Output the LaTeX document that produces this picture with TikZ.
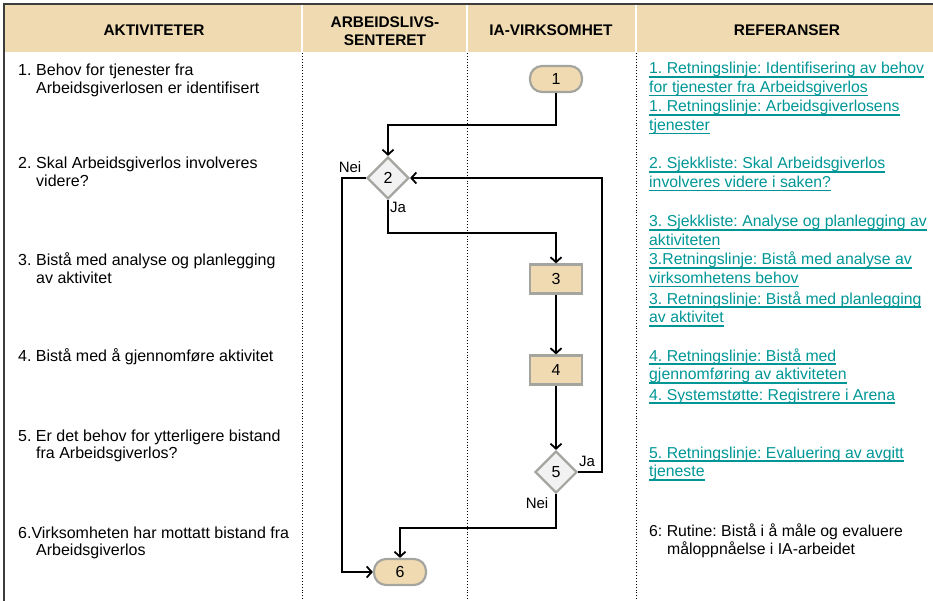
\documentclass[tikz,border=0pt]{standalone}
\usepackage{fontspec}
\setmainfont{Liberation Sans}
\usetikzlibrary{shapes.geometric,arrows.meta}
\definecolor{beige}{RGB}{239,218,177}
\definecolor{bordergray}{RGB}{165,165,160}
\definecolor{dfill}{RGB}{242,242,242}
\definecolor{linkteal}{RGB}{0,150,150}
\definecolor{framecol}{RGB}{60,60,60}
\newsavebox{\ulinkbox}
\newcommand\ulink[1]{\sbox{\ulinkbox}{#1}\leavevmode\rlap{\rule[-4pt]{\wd\ulinkbox}{1.6pt}}\usebox{\ulinkbox}}
\newcommand\hang{\hspace*{18pt}}
\frenchspacing
\begin{document}
\begin{tikzpicture}[x=1pt,y=-1pt,
  item/.style={anchor=base west, inner sep=0pt, align=left, font=\fontsize{16}{17.5}\selectfont},
  refs/.style={anchor=base west, inner sep=0pt, align=left, text=linkteal, font=\fontsize{15.8}{18.5}\selectfont},
  hdr/.style={font=\bfseries\fontsize{15.4}{18.5}\selectfont, align=center, inner sep=0pt},
  proc/.style={draw=bordergray, line width=2.2pt, fill=beige, minimum width=52pt, minimum height=29pt, inner sep=0pt, font=\fontsize{16}{16}\selectfont},
  term/.style={proc, rounded corners=12pt, minimum height=26pt},
  dec/.style={diamond, draw=bordergray, line width=2.2pt, fill=dfill, minimum size=42pt, inner sep=0pt, font=\fontsize{16}{16}\selectfont},
  flow/.style={draw, line width=1.8pt, -{Straight Barb[length=5pt,width=11pt,line width=1.8pt]}},
  lab/.style={font=\fontsize{15}{15}\selectfont, inner sep=0pt},
  sep/.style={dotted, line width=0.9pt},
]
\useasboundingbox (0,0) rectangle (933,601);
% header
\fill[beige] (5,5) rectangle (933,52);
\foreach \xx in {302,467,636} \draw[white, line width=2pt] (\xx,5) -- (\xx,52);
\draw[framecol, line width=2pt] (4,4) -- (933,4);
\draw[framecol, line width=2pt] (4,3) -- (4,601);
\foreach \xx in {302,467,636} \draw[sep] (\xx,53) -- (\xx,601);
\node[hdr] (h1) at (154,30) {AKTIVITETER};
\node[hdr] (h2) at (385,31) {ARBEIDSLIVS-\\SENTERET};
\node[hdr] (h3) at (551,30) {IA-VIRKSOMHET};
\node[hdr] (h4) at (787,30) {REFERANSER};
% activities (base anchor = baseline of last line)
\node[item] (a1) at (18,93.5) {\makebox[18pt][l]{1.}Behov for tjenester fra\\\hang Arbeidsgiverlosen er identifisert};
\node[item] (a2) at (18,186.5) {\makebox[18pt][l]{2.}Skal Arbeidsgiverlos involveres\\\hang videre?};
\node[item] (a3) at (18,283.5) {\makebox[18pt][l]{3.}Bistå med analyse og planlegging\\\hang av aktivitet};
\node[item] (a4) at (18,361) {4. Bistå med å gjennomføre aktivitet};
\node[item] (a5) at (18,458.5) {5. Er det behov for ytterligere bistand\\\hang fra Arbeidsgiverlos?};
\node[item] (a6) at (18,555.5) {6.Virksomheten har mottatt bistand fra\\\hang Arbeidsgiverlos};
% references
\node[refs] (r1) at (649,92.5) {\ulink{1. Retningslinje: Identifisering av behov}\\\ulink{for tjenester fra Arbeidsgiverlos}};
\node[refs] (r2) at (649,130.5) {\ulink{1. Retningslinje: Arbeidsgiverlosens}\\\ulink{tjenester}};
\node[refs] (r3) at (649,187.5) {\ulink{2. Sjekkliste: Skal Arbeidsgiverlos}\\\ulink{involveres videre i saken?}};
\node[refs] (r4) at (649,245.5) {\ulink{3. Sjekkliste: Analyse og planlegging av}\\\ulink{aktiviteten}};
\node[refs] (r5) at (649,283.5) {\ulink{3.Retningslinje: Bistå med analyse av}\\\ulink{virksomhetens behov}};
\node[refs] (r6) at (649,322.5) {\ulink{3. Retningslinje: Bistå med planlegging}\\\ulink{av aktivitet}};
\node[refs] (r7) at (649,379.5) {\ulink{4. Retningslinje: Bistå med}\\\ulink{gjennomføring av aktiviteten}};
\node[refs] (r8) at (649,400) {\ulink{4. Systemstøtte: Registrere i Arena}};
\node[refs] (r9) at (649,476.5) {\ulink{5. Retningslinje: Evaluering av avgitt}\\\ulink{tjeneste}};
\node[refs, text=black] (r10) at (649,554.5) {6: Rutine: Bistå i å måle og evaluere\\\hang måloppnåelse i IA-arbeidet};
% flowchart
\node[term] (n1) at (556,79) {1};
\node[dec] (d2) at (388,178) {2};
\node[proc] (n3) at (556,279) {3};
\node[proc] (n4) at (556,370) {4};
\node[dec] (d5) at (556,472) {5};
\node[term] (n6) at (400,572) {6};
\node[lab] (l2n) at (350,167) {Nei};
\node[lab] (l2j) at (398,207) {Ja};
\node[lab] (l5j) at (587,461) {Ja};
\node[lab] (l5n) at (537,503) {Nei};
\draw[flow] (n1.south) -- ++(0,32) -| (d2.north);
\draw[flow] (d2.south) -- ++(0,33) -| (n3.north);
\draw[flow] (n3) -- (n4);
\draw[flow] (n4) -- (d5);
\draw[flow] (d5.east) -- ++(24,0) |- (d2.east);
\draw[flow] (d5.south) -- ++(0,34) -| (n6.north);
\draw[flow] (d2.west) -- ++(-24,0) |- (n6.west);
\end{tikzpicture}
\end{document}
